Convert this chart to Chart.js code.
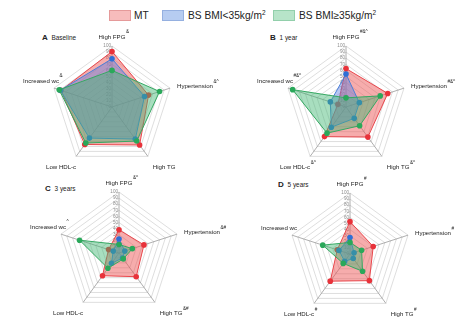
<!DOCTYPE html>
<html>
<head>
<meta charset="utf-8">
<script src="https://cdn.jsdelivr.net/npm/chart.js@4.4.1/dist/chart.umd.min.js"></script>
<style>
  body { margin: 0; background: #fff; }
  #page { position: relative; width: 473px; height: 327px; overflow: hidden; font-family: "Liberation Sans", Arial, sans-serif; }
  .box { position: absolute; }
  .key { position: absolute; top: 10px; width: 22px; height: 11px; box-sizing: border-box; border: 1px solid; }
  .keytext { position: absolute; top: 9px; font-size: 10.2px; line-height: 13px; color: #222; white-space: nowrap; }
  .keytext sup { font-size: 6.5px; vertical-align: 4px; line-height: 0; }
  .title { position: absolute; font-size: 6.4px; line-height: 9px; color: #222; white-space: nowrap; }
  .title b { font-size: 8px; margin-right: 2px; }
</style>
</head>
<body>
<div id="page">
  <div class="key" style="left:109px; background:#f7bcbc; border-color:#e59a9a;"></div>
  <div class="keytext" style="left:134px;">MT</div>
  <div class="key" style="left:162px; background:#b6ccf1; border-color:#95b0e0;"></div>
  <div class="keytext" style="left:188px;">BS BMI&lt;35kg/m<sup>2</sup></div>
  <div class="key" style="left:273px; background:#b7e4c9; border-color:#92cfab;"></div>
  <div class="keytext" style="left:299px;">BS BMI≥35kg/m<sup>2</sup></div>

  <div class="title" style="left:42px; top:33px;"><b>A</b> Baseline</div>
  <div class="title" style="left:270px; top:33px;"><b>B</b> 1 year</div>
  <div class="title" style="left:45px; top:184px;"><b>C</b> 3 years</div>
  <div class="title" style="left:278px; top:180px;"><b>D</b> 5 years</div>

  <canvas id="chartA" class="box" width="236" height="150" style="left:0; top:25px;"></canvas>
  <canvas id="chartB" class="box" width="237" height="150" style="left:236px; top:25px;"></canvas>
  <canvas id="chartC" class="box" width="236" height="157" style="left:0; top:170px;"></canvas>
  <canvas id="chartD" class="box" width="237" height="157" style="left:236px; top:170px;"></canvas>
</div>

<script>
// prevalence (%) of each component, axes clockwise from the top
const components = ['High FPG', 'Hypertension', 'High TG', 'Low HDL-c', 'Increased wc'];
const groupNames = ['MT', 'BS BMI<35kg/m²', 'BS BMI≥35kg/m²'];
const tickValues = [0, 10, 20, 30, 40, 50, 60, 70, 80, 90, 100];

const baselineMT = [91, 63, 77, 76, 88];
const baselineLow = [79, 56, 65, 63, 89];
const baselineHigh = [60, 82, 69, 73, 91];
const baselineMarks = ['&', '&^', '', '', '&'];

const year1MT = [63, 72, 61, 60, 14];
const year1Low = [54, 23, 23, 41, 27];
const year1High = [15, 59, 38, 53, 92];
const year1Marks = ['#&^', '#&^', '&^', '&^', '#&^'];

const year3MT = [38, 43, 48, 46, 18];
const year3Low = [23, 10, 10, 21, 10];
const year3High = [14, 23, 12, 31, 68];
const year3Marks = ['&^', '&#', '&#', '', '^'];

const year5MT = [53, 40, 54, 55, 22];
const year5Low = [27, 7, 9, 15, 19];
const year5High = [19, 20, 35, 19, 47];
const year5Marks = ['#', '#', '#', '#', ''];

const RADIUS = 61;
const labelFont = '6.1px "Liberation Sans", Arial, sans-serif';
const supFont = '4.6px "Liberation Sans", Arial, sans-serif';

// where each axis label sits relative to its outer vertex
const labelSpots = [
    { dx: 0, dy: -9, align: 'center' },
    { dx: 7, dy: -1.5, align: 'left' },
    { dx: 5, dy: 11, align: 'left' },
    { dx: 0, dy: 11, align: 'right' },
    { dx: 5, dy: -7, align: 'right' }
];

const seriesStyle = [
    { line: '#e8474c', point: '#e8323a', fill: 'rgba(236, 82, 82, 0.48)', order: 3 },
    { line: '#4a7fd8', point: '#2f6fd6', fill: 'rgba(96, 128, 226, 0.45)', order: 2 },
    { line: '#35a862', point: '#2aa85a', fill: 'rgba(62, 182, 112, 0.45)', order: 1 }
];

const axisText = {
    id: 'axisText',
    beforeDatasetsDraw(chart) {
        const s = chart.scales.r;
        const ctx = chart.ctx;
        ctx.save();
        ctx.font = '4.6px "Liberation Sans", Arial, sans-serif';
        ctx.fillStyle = '#8c8c8c';
        ctx.textAlign = 'right';
        ctx.textBaseline = 'middle';
        s.ticks.forEach(t => {
            const d = s.getDistanceFromCenterForValue(t.value);
            ctx.fillText(String(t.value), s.xCenter - 1, s.yCenter - d);
        });
        ctx.restore();
    },
    afterDraw(chart) {
        const s = chart.scales.r;
        const ctx = chart.ctx;
        const marks = chart.options.plugins.axisText.marks;
        ctx.save();
        ctx.fillStyle = '#222';
        ctx.textBaseline = 'middle';
        chart.data.labels.forEach((label, i) => {
            const spot = labelSpots[i];
            const p = s.getPointPosition(i, s.drawingArea);
            const x = p.x + spot.dx;
            const y = p.y + spot.dy;
            ctx.font = labelFont;
            ctx.textAlign = spot.align;
            ctx.fillText(label, x, y);
            const w = ctx.measureText(label).width;
            let end = x;
            if (spot.align === 'left') end = x + w;
            if (spot.align === 'center') end = x + w / 2;
            if (marks[i]) {
                ctx.font = supFont;
                ctx.textAlign = 'left';
                ctx.fillText(marks[i], end + 0.5, y - 5);
            }
        });
        ctx.restore();
    }
};

function drawPanel(id, center, values, marks) {
    const canvas = document.getElementById(id);
    const W = canvas.width, H = canvas.height;
    const datasets = values.map((v, k) => ({
        label: groupNames[k],
        data: v,
        fill: true,
        order: seriesStyle[k].order,
        borderColor: seriesStyle[k].line,
        backgroundColor: seriesStyle[k].fill,
        borderWidth: 1,
        pointRadius: 2.8,
        pointBorderWidth: 0,
        pointBackgroundColor: seriesStyle[k].point
    }));

    return new Chart(canvas, {
        type: 'radar',
        data: { labels: components, datasets },
        options: {
            responsive: false,
            animation: false,
            layout: {
                padding: {
                    left: center[0] - RADIUS,
                    top: center[1] - RADIUS,
                    right: W - center[0] - RADIUS,
                    bottom: H - center[1] - RADIUS
                }
            },
            scales: {
                r: {
                    min: tickValues[0],
                    max: tickValues[tickValues.length - 1],
                    ticks: { display: false, stepSize: 10 },
                    grid: { color: '#d6d6d6', lineWidth: 0.8 },
                    angleLines: { color: '#9a9a9a', lineWidth: 0.8 },
                    pointLabels: { display: false }
                }
            },
            plugins: {
                legend: { display: false },
                tooltip: { enabled: false },
                axisText: { marks }
            }
        },
        plugins: [axisText]
    });
}

drawPanel('chartA', [112, 82], [baselineMT, baselineLow, baselineHigh], baselineMarks);
drawPanel('chartB', [110, 82], [year1MT, year1Low, year1High], year1Marks);
drawPanel('chartC', [119, 83], [year3MT, year3Low, year3High], year3Marks);
drawPanel('chartD', [114, 84], [year5MT, year5Low, year5High], year5Marks);
</script>
</body>
</html>
